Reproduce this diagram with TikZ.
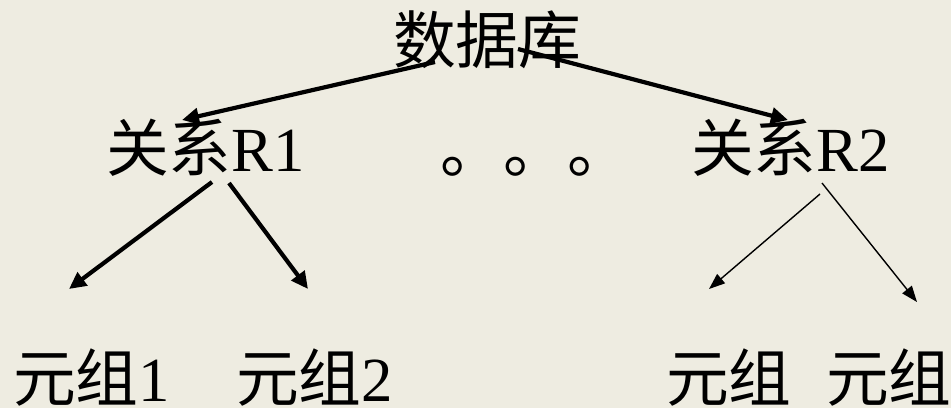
\documentclass[tikz,border=0pt]{standalone}
\usepackage{fontspec}
\setmainfont{Liberation Serif}
\newfontfamily\cjk{Noto Sans CJK SC}
\usetikzlibrary{arrows.meta}
\definecolor{bgc}{HTML}{EEECE1}
\tikzset{
  lbl/.style={anchor=base west, inner sep=0pt, font=\fontsize{63}{70}\selectfont},
  thick arrow/.style={line width=4.2bp, -{Triangle[length=17bp,width=16bp]}},
  thin arrow/.style={line width=1.4bp, -{Triangle[length=16bp,width=12bp]}}
}
\begin{document}
\begin{tikzpicture}[x=1bp,y=-1bp]
\fill[bgc] (0,0) rectangle (951,408);
\useasboundingbox (0,0) rectangle (951,408);
\node[lbl] (db) at (393,63) {\cjk 数据库};
\node[lbl] (r1) at (106,171) {{\cjk 关系}R1};
\node[lbl] (dots) at (440,172) {\cjk 。\kern1bp 。\kern1bp 。};
\node[lbl] (r2) at (691,171) {{\cjk 关系}R2};
\node[lbl] (t1) at (13,401) {{\cjk 元组}1};
\node[lbl] (t2) at (236,401) {{\cjk 元组}2};
\node[lbl] (t3) at (666,401) {\cjk 元组};
\node[lbl] (t4) at (826,401) {\cjk 元组};
% connector end points
\coordinate (dbL) at (435,62);
\coordinate (dbR) at (518,49);
\coordinate (r1in) at (182,120);
\coordinate (r2in) at (788,120);
\coordinate (r1a) at (212,182);
\coordinate (r1b) at (229,183);
\coordinate (t1in) at (69,289);
\coordinate (t2in) at (308,289);
\coordinate (r2a) at (820,194);
\coordinate (r2b) at (822,183);
\coordinate (t3in) at (709,289);
\coordinate (t4in) at (917,302);
\draw[thick arrow] (dbL) -- (r1in);
\draw[thick arrow] (dbR) -- (r2in);
\draw[thick arrow] (r1a) -- (t1in);
\draw[thick arrow] (r1b) -- (t2in);
\draw[thin arrow] (r2a) -- (t3in);
\draw[thin arrow] (r2b) -- (t4in);
\end{tikzpicture}
\end{document}
